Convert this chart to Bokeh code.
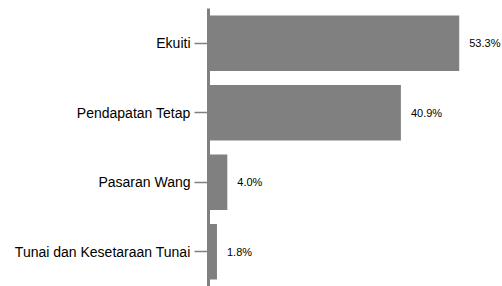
from bokeh.plotting import figure
from bokeh.models import ColumnDataSource, FactorRange, Range1d
from bokeh.core.properties import value
from bokeh.embed import file_html
from bokeh.resources import INLINE

categories = ["Ekuiti", "Pendapatan Tetap", "Pasaran Wang", "Tunai dan Kesetaraan Tunai"]
values = [53.3, 40.9, 4.0, 1.8]
labels = ["53.3%", "40.9%", "4.0%", "1.8%"]

source = ColumnDataSource(data=dict(cat=categories, val=values, lab=labels))

p = figure(
    width=502, height=286,
    y_range=FactorRange(factors=list(reversed(categories)), range_padding=0),
    x_range=Range1d(0, 62.5),
    output_backend="svg", toolbar_location=None,
    x_axis_location=None,
    min_border_left=208, min_border_right=0, min_border_top=8, min_border_bottom=0,
)
p.outline_line_color = None
p.xgrid.visible = False
p.ygrid.visible = False
p.background_fill_color = "white"
p.border_fill_color = "white"

p.hbar(y="cat", right="val", left=0, height=0.8, source=source,
       fill_color="#808080", line_color=None)

p.text(x="val", y="cat", text="lab", source=source, x_offset=10,
       text_baseline="middle", text_align="left",
       text_font=value("Liberation Sans"), text_font_size="11px", text_color="#000000")

ax = p.yaxis[0]
ax.axis_line_width = 3
ax.axis_line_color = "#808080"
ax.major_tick_line_color = "#808080"
ax.major_tick_line_width = 1.5
ax.major_tick_out = 14
ax.major_tick_in = 0
ax.minor_tick_line_color = None
ax.major_label_standoff = 4
ax.major_label_text_font = "Liberation Sans"
ax.major_label_text_font_size = "14px"
ax.major_label_text_color = "#000000"

open("out.html", "w").write(file_html(p, INLINE))
